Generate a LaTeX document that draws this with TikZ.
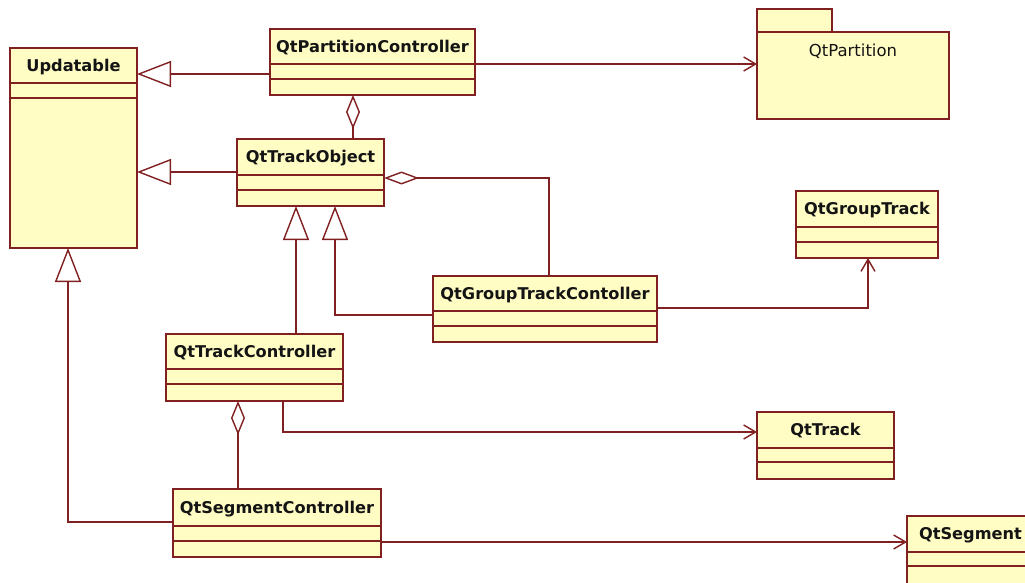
\documentclass[tikz,border=0pt]{standalone}
\usepackage{fontspec}
\setmainfont{DejaVu Sans}
\usetikzlibrary{arrows.meta}
\definecolor{umlline}{RGB}{128,32,32}
\definecolor{umlfill}{RGB}{255,252,196}
\definecolor{umltext}{RGB}{20,20,20}
\tikzset{
  cls/.style={draw=umlline, fill=umlfill, line width=1.4pt, rectangle, inner sep=0pt, outer sep=0pt},
  ttl/.style={text=umltext, font=\fontsize{16.2}{19}\selectfont\bfseries, inner sep=0pt, text height=11.8pt, text depth=0pt},
  pkgttl/.style={text=umltext, font=\fontsize{16.5}{19}\selectfont, inner sep=0pt, text height=12pt, text depth=0pt},
  ln/.style={draw=umlline, line width=1.4pt},
  gen/.style={ln, -{Triangle[open, length=34pt, width=26pt]}},
  aggend/.style={ln, -{Diamond[open, length=34pt, width=14pt]}},
  aggstart/.style={ln, {Diamond[open, length=35pt, width=13pt]}-},
  nav/.style={ln, -{Straight Barb[length=12pt, width=14pt]}},
}
\newcommand\umlclass[8]{%
  \node[cls, minimum width={#4-#2}, minimum height={#7-#3}, anchor=north west] (#1) at (#2,#3) {};
  \node[ttl] (#1-t) at ({(#2+#4)/2},{(#3+#5)/2}) {#8};
  \draw[ln] (#2,#5) -- (#4,#5) (#2,#6) -- (#4,#6);
}
\begin{document}
\begin{tikzpicture}[x=1pt, y=-1pt]
  \useasboundingbox (0,0) rectangle (1025,583);
  \clip (0,0) rectangle (1025,583);
  \fill[white] (0,0) rectangle (1025,583);

  % classes
  \umlclass{Upd}{10}{48}{137}{83}{98}{248}{Updatable}
  \umlclass{QtPC}{270}{29}{475}{64}{79}{95}{QtPartitionController}
  \umlclass{QtTO}{237}{139}{384}{175}{190}{206}{QtTrackObject}
  \umlclass{QtGTC}{433}{276}{657}{311}{326}{342}{QtGroupTrackContoller}
  \umlclass{QtGT}{796}{191}{938}{227}{242}{258}{QtGroupTrack}
  \umlclass{QtTC}{166}{334}{343}{369}{384}{401}{QtTrackController}
  \umlclass{QtSC}{173}{489}{381}{526}{541}{557}{QtSegmentController}
  \umlclass{QtTr}{757}{412}{894}{448}{462}{479}{QtTrack}
  \node[cls, minimum width=127, minimum height=90, anchor=north west] (QtSeg) at (907,516) {};
  \node[ttl] (QtSeg-t) at (970.5,534) {QtSegment};
  \draw[ln] (907,552) -- (1034,552) (907,566) -- (1034,566);

  % package
  \node[cls, minimum width=75, minimum height=23, anchor=north west] (QtPartTab) at (757,9) {};
  \node[cls, minimum width=192, minimum height=87, anchor=north west] (QtPart) at (757,32) {};
  \node[pkgttl] (QtPart-t) at (853,51) {QtPartition};

  % generalizations
  \draw[gen] (QtPC.west |- 0,74) -- (Upd.east |- 0,74);
  \draw[gen] (QtTO.west |- 0,172) -- (Upd.east |- 0,172);
  \draw[gen] (QtTC.north -| 296,0) -- (QtTO.south -| 296,0);
  \draw[gen] (QtGTC.west |- 0,315) -| (QtTO.south -| 335,0);
  \draw[gen] (QtSC.west |- 0,522) -| (Upd.south -| 68,0);

  % aggregations
  \draw[aggend] (QtTO.north -| 353,0) -- (QtPC.south -| 353,0);
  \draw[aggstart] (QtTO.east |- 0,178) -| (QtGTC.north -| 549,0);
  \draw[aggend] (QtSC.north -| 238,0) -- (QtTC.south -| 238,0);

  % navigable associations
  \draw[nav] (QtPC.east |- 0,64) -- (QtPart.west |- 0,64);
  \draw[nav] (QtGTC.east |- 0,308) -| (QtGT.south -| 868,0);
  \draw[nav] (QtTC.south -| 283,0) |- (QtTr.west |- 0,432);
  \draw[nav] (QtSC.east |- 0,542) -- (QtSeg.west |- 0,542);
\end{tikzpicture}
\end{document}
